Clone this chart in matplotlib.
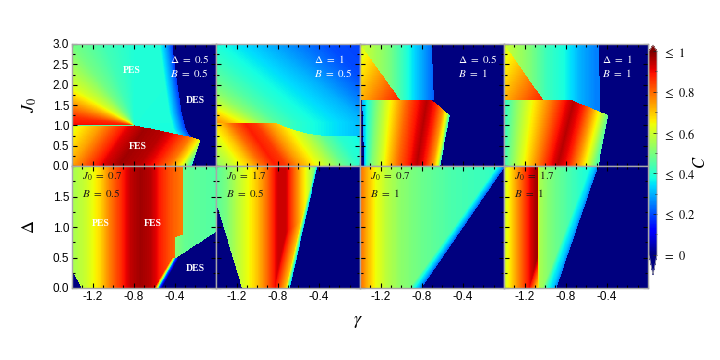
import numpy as np
import matplotlib
matplotlib.use("Agg")
import matplotlib.pyplot as plt
from matplotlib.path import Path
from matplotlib.ticker import MultipleLocator, FixedLocator, FormatStrFormatter

plt.rcParams["mathtext.fontset"] = "stix"
plt.rcParams["font.family"] = ["Liberation Sans", "DejaVu Sans"]

GAMMA_LIM = [-1.4, 0.0]
J0_LIM = [0.0, 3.0]
DELTA_LIM = [0.0, 2.0]

TOP_PARAMS = [("0.5", "0.5"), ("1", "0.5"), ("0.5", "1"), ("1", "1")]
BOT_PARAMS = [("0.7", "0.5"), ("1.7", "0.5"), ("0.7", "1"), ("1.7", "1")]
X_TICKS = [-1.2, -0.8, -0.4]
CBAR_TICKS = [0.0, 0.2, 0.4, 0.6, 0.8, 1.0]
CBAR_LABELS = [r"$=\ 0$", r"$\leq\ 0.2$", r"$\leq\ 0.4$", r"$\leq\ 0.6$", r"$\leq\ 0.8$", r"$\leq\ 1$"]

# ---------------- panel 1 (Delta=0.5, B=0.5) ----------------
P1_PES_G = [-1.4, -0.80, -0.25, -0.30, -0.34, -0.38, -0.43, -1.4]
P1_PES_Y = [1.0, 1.0, 0.71, 0.9, 1.3, 2.0, 3.0, 3.0]
P1_PES_CENTER = [-0.80, 1.0]
P1_PES_ANG = [-30, 90, 110, 127, 147, 162, 172, 180]
P1_PES_C = [0.38, 0.39, 0.43, 0.49, 0.61, 0.76, 0.86, 0.9]
P1_DES_BG = [-0.25, -0.30, -0.34, -0.38, -0.43]
P1_DES_BY = [0.71, 0.9, 1.3, 2.0, 3.0]
P1_FRINGE_D = [0.0, 0.05, 0.12, 0.3]
P1_FRINGE_C = [0.18, 0.27, 0.38, 1.0]
P1_FES_G = [-1.4, -1.4, -0.80, -0.25, -0.16, -0.24]
P1_FES_Y = [0.0, 1.0, 1.0, 0.71, 0.64, 0.0]
P1_FES_V = [0.6, 0.74, 0.8, 0.92, 0.97, 0.95, 0.88, 0.78, 0.65, 0.48, 0.38]
P1_FES_K0 = [-1.7, -1.4, -1.3, -1.1, -0.95, -0.75, -0.6, -0.45, -0.35, -0.28, -0.24]
P1_FES_K1 = [-1.43, -1.13, -1.03, -0.83, -0.68, -0.48, -0.33, -0.18, -0.08, -0.01, 0.03]
P1_LINE_G = [-1.4, -0.80, -0.80, -1.4]
P1_LINE_Y = [0.985, 0.985, 1.015, 1.015]
P1_LINE_C = 0.45

# ---------------- panel 2 (Delta=1, B=0.5) ----------------
P2_PES_G = [-1.4, -0.827, -0.664, -0.503, -0.34, 0.0, 0.0, -1.4]
P2_PES_Y = [1.065, 1.065, 0.90, 0.79, 0.74, 0.74, 3.0, 3.0]
P2_PES_V = [0.78, 0.72, 0.62, 0.52, 0.45, 0.4, 0.3, 0.2, 0.18]
P2_PES_K0 = [-1.45, -1.3, -1.1, -0.95, -0.8, -0.6, 0.07, 0.43, 1.0]
P2_PES_K1 = [-3.0, -2.73, -2.61, -2.13, -1.74, -1.49, -0.9, -0.3, 0.3]
P2_FES_G = [-1.4, -1.4, -0.827, -0.664, -0.503, -0.34, 0.0, 0.0]
P2_FES_Y = [0.0, 1.065, 1.065, 0.90, 0.79, 0.74, 0.74, 0.0]
P2_FES_V = [0.52, 0.6, 0.7, 0.8, 0.88, 0.85, 0.75, 0.66, 0.57, 0.47, 0.4, 0.35]
P2_FES_K0 = [-1.4, -1.23, -1.07, -0.95, -0.82, -0.72, -0.59, -0.45, -0.3, -0.15, 0.0, 0.3]
P2_FES_K1 = [-1.7, -1.53, -1.37, -1.25, -1.12, -1.02, -0.89, -0.75, -0.6, -0.45, -0.3, 0.0]

# ---------------- panel 3 (Delta=0.5, B=1) ----------------
P3_TRI_G = [-1.4, -1.01, -1.4]
P3_TRI_Y = [3.0, 1.62, 1.62]
P3_TRI_V = [0.55, 0.72, 0.88]
P3_TRI_K0 = [-1.815, -1.4, -1.01]
P3_TRI_K1 = [-1.522, -1.107, -0.717]
P3_UP_G = [-1.4, -0.70, -0.69, -0.68, -1.01]
P3_UP_Y = [3.0, 3.0, 2.3, 1.62, 1.62]
P3_UP_V = [0.6, 0.55, 0.5, 0.42, 0.33, 0.25, 0.22]
P3_UP_K = [-1.4, -1.25, -1.12, -0.99, -0.86, -0.73, -0.68]
P3_LOW_G = [-1.36, -1.38, -0.70, -0.525, -0.62]
P3_LOW_Y = [0.0, 1.62, 1.62, 1.25, 0.0]
P3_LOW_V = [0.3, 0.4, 0.5, 0.6, 0.7, 0.8, 0.88, 0.95, 0.88, 0.75, 0.6, 0.4]
P3_LOW_K0 = [-1.36, -1.34, -1.29, -1.2, -1.12, -1.03, -0.93, -0.85, -0.77, -0.69, -0.64, -0.62]
P3_LOW_K1 = [-1.38, -1.32, -1.24, -1.15, -1.05, -0.95, -0.85, -0.75, -0.66, -0.58, -0.53, -0.5]

# ---------------- panel 4 (Delta=1, B=1) ----------------
P4_TRI_G = [-1.4, -1.018, -1.4]
P4_TRI_Y = [3.0, 1.62, 1.62]
P4_TRI_V = [0.55, 0.72, 0.88]
P4_TRI_K0 = [-1.815, -1.4, -1.01]
P4_TRI_K1 = [-1.522, -1.107, -0.717]
P4_UP_G = [-1.018, -1.4, -0.48, -0.465, -0.742]
P4_UP_Y = [1.62, 3.0, 3.0, 1.33, 1.62]
P4_UP_V = [0.6, 0.55, 0.5, 0.42, 0.38, 0.3, 0.25]
P4_UP_K = [-1.4, -1.27, -1.14, -0.98, -0.82, -0.66, -0.5]
P4_LOW_G = [-1.4, -1.4, -0.742, -0.386, -0.48]
P4_LOW_Y = [0.0, 1.62, 1.62, 1.25, 0.0]
P4_LOW_V = [0.4, 0.5, 0.6, 0.7, 0.8, 0.88, 0.95, 0.88, 0.75, 0.6, 0.45]
P4_LOW_K0 = [-1.42, -1.34, -1.25, -1.15, -1.05, -0.97, -0.88, -0.78, -0.68, -0.58, -0.5]
P4_LOW_K1 = [-1.4, -1.3, -1.18, -1.05, -0.92, -0.82, -0.72, -0.62, -0.52, -0.42, -0.34]

# ---------------- panel 5 (J0=0.7, B=0.5) ----------------
P5_ALL_G = [-1.4, 0.0, 0.0, -1.4]
P5_ALL_Y = [0.0, 0.0, 2.0, 2.0]
P5_ALL_V = [0.55, 0.6, 0.68, 0.78, 0.86, 0.94, 0.97, 0.95, 0.88, 0.82, 0.78]
P5_ALL_K = [-1.4, -1.26, -1.13, -1.03, -0.93, -0.84, -0.74, -0.64, -0.55, -0.45, -0.34]
P5_PES_G = [-0.33, 0.0, 0.0, -0.40, -0.40, -0.40, -0.33]
P5_PES_Y = [2.0, 2.0, 0.92, 0.47, 0.5, 0.82, 0.87]
P5_PES_V = [0.52, 0.47, 0.45]
P5_PES_K = [-0.42, -0.3, 0.0]
P5_DES_G = [-0.56, -0.40, 0.0, 0.0]
P5_DES_Y = [0.0, 0.48, 0.92, 0.0]
P5_EDGE_G = [-0.60, -0.53, -0.37, -0.44]
P5_EDGE_Y = [0.0, 0.0, 0.48, 0.48]
P5_EDGE_BG = [-0.56, -0.40]
P5_EDGE_BY = [0.0, 0.48]
P5_EDGE_D = [-0.03, 0.0, 0.012, 0.03, 0.045]
P5_EDGE_C = [0.0, 0.25, 0.5, 0.75, 0.9]
P5_CORNER_G = [-1.4, -1.4, -1.31]
P5_CORNER_Y = [0.0, 0.28, 0.0]

# ---------------- panel 6 (J0=1.7, B=0.5) ----------------
P6_G = [-1.4, -0.41, -0.68, -1.15, -1.4]
P6_Y = [2.0, 2.0, 0.0, 0.0, 1.39]
P6_V = [0.45, 0.5, 0.57, 0.63, 0.7, 0.8, 0.93, 0.93, 0.82, 0.7, 0.6, 0.48, 0.4]
P6_K = [-1.41, -1.3, -1.2, -1.1, -1.0, -0.9, -0.8, -0.72, -0.65, -0.57, -0.5, -0.43, -0.38]
P6_BG = [-0.68, -0.41]
P6_BY = [0.0, 2.0]
P6_FRINGE_D = [0.0, 0.015, 0.04, 0.2]
P6_FRINGE_C = [0.3, 0.45, 0.7, 1.0]

# ---------------- panel 7 (J0=0.7, B=1) ----------------
P7_G = [-1.4, -1.4, 0.0, 0.0, -0.80]
P7_Y = [0.0, 2.0, 2.0, 1.95, 0.0]
P7_V = [0.8, 0.72, 0.64, 0.58, 0.52, 0.48, 0.44, 0.42, 0.4]
P7_K = [-1.4, -1.33, -1.25, -1.15, -1.0, -0.8, -0.5, -0.2, 0.0]
P7_BG = [-0.80, 0.0]
P7_BY = [0.0, 1.95]
P7_FRINGE_D = [0.0, 0.03, 0.08, 0.3]
P7_FRINGE_C = [0.22, 0.3, 0.4, 1.0]

# ---------------- panel 8 (J0=1.7, B=1) ----------------
P8_G = [-1.4, -1.4, -0.48, -0.89]
P8_Y = [0.0, 2.0, 2.0, 0.0]
P8_V = [0.6, 0.68, 0.78, 0.88, 0.96, 0.97, 0.56, 0.5, 0.45, 0.4, 0.36]
P8_K = [-1.4, -1.33, -1.25, -1.17, -1.1, -1.075, -1.065, -0.95, -0.8, -0.65, -0.5]
P8_BG = [-0.89, -0.48]
P8_BY = [0.0, 2.0]
P8_FRINGE_D = [0.0, 0.03, 0.08, 0.3]
P8_FRINGE_C = [0.25, 0.32, 0.38, 1.0]

# ---------------- layout (pixels of a 720x360 canvas) ----------------
FIG_W, FIG_H = 720, 360
PANEL_LEFTS = [72, 216, 360, 504]
PANEL_W = 144
ROW_TOPS = [44, 166]
ROW_H = 122
SX = PANEL_W / (GAMMA_LIM[1] - GAMMA_LIM[0])


def region(kind, pg, py, *args):
    return (kind, pg, py, args)


PANELS = [
    dict(ylim=J0_LIM, regions=[
        region("fan", P1_PES_G, P1_PES_Y, P1_PES_CENTER, P1_PES_ANG, P1_PES_C),
        region("cap", P1_PES_G, P1_PES_Y, P1_DES_BG, P1_DES_BY, P1_FRINGE_D, P1_FRINGE_C),
        region("stripe", P1_FES_G, P1_FES_Y, 0.0, 1.0, P1_FES_K0, P1_FES_K1, P1_FES_V),
        region("const", P1_LINE_G, P1_LINE_Y, P1_LINE_C)]),
    dict(ylim=J0_LIM, regions=[
        region("stripe", P2_PES_G, P2_PES_Y, 1.065, 3.0, P2_PES_K0, P2_PES_K1, P2_PES_V),
        region("stripe", P2_FES_G, P2_FES_Y, 0.0, 1.065, P2_FES_K0, P2_FES_K1, P2_FES_V)]),
    dict(ylim=J0_LIM, regions=[
        region("stripe", P3_UP_G, P3_UP_Y, 1.62, 3.0, P3_UP_K, P3_UP_K, P3_UP_V),
        region("stripe", P3_TRI_G, P3_TRI_Y, 1.62, 3.0, P3_TRI_K0, P3_TRI_K1, P3_TRI_V),
        region("stripe", P3_LOW_G, P3_LOW_Y, 0.0, 1.62, P3_LOW_K0, P3_LOW_K1, P3_LOW_V)]),
    dict(ylim=J0_LIM, regions=[
        region("stripe", P4_UP_G, P4_UP_Y, 1.62, 3.0, P4_UP_K, P4_UP_K, P4_UP_V),
        region("stripe", P4_TRI_G, P4_TRI_Y, 1.62, 3.0, P4_TRI_K0, P4_TRI_K1, P4_TRI_V),
        region("stripe", P4_LOW_G, P4_LOW_Y, 0.0, 1.62, P4_LOW_K0, P4_LOW_K1, P4_LOW_V)]),
    dict(ylim=DELTA_LIM, regions=[
        region("stripe", P5_ALL_G, P5_ALL_Y, 0.0, 2.0, P5_ALL_K, P5_ALL_K, P5_ALL_V),
        region("stripe", P5_PES_G, P5_PES_Y, 0.0, 2.0, P5_PES_K, P5_PES_K, P5_PES_V),
        region("const", P5_DES_G, P5_DES_Y, 0.0),
        region("edge", P5_EDGE_G, P5_EDGE_Y, P5_EDGE_BG, P5_EDGE_BY, P5_EDGE_D, P5_EDGE_C),
        region("const", P5_CORNER_G, P5_CORNER_Y, 0.0)]),
    dict(ylim=DELTA_LIM, regions=[
        region("stripe", P6_G, P6_Y, 0.0, 2.0, P6_K, P6_K, P6_V),
        region("cap", P6_G, P6_Y, P6_BG, P6_BY, P6_FRINGE_D, P6_FRINGE_C)]),
    dict(ylim=DELTA_LIM, regions=[
        region("stripe", P7_G, P7_Y, 0.0, 2.0, P7_K, P7_K, P7_V),
        region("cap", P7_G, P7_Y, P7_BG, P7_BY, P7_FRINGE_D, P7_FRINGE_C)]),
    dict(ylim=DELTA_LIM, regions=[
        region("stripe", P8_G, P8_Y, 0.0, 2.0, P8_K, P8_K, P8_V),
        region("cap", P8_G, P8_Y, P8_BG, P8_BY, P8_FRINGE_D, P8_FRINGE_C)]),
]


def stripe_field(G, Y, y0, y1, k0, k1, v):
    k0 = np.asarray(k0, float)
    k1 = np.asarray(k1, float)
    v = np.asarray(v, float)
    out = np.empty_like(G)
    for i in range(G.shape[0]):
        t = np.clip((Y[i, 0] - y0) / (y1 - y0), 0.0, 1.0)
        out[i] = np.interp(G[i], k0 + t * (k1 - k0), v)
    return out


def fan_field(G, Y, center, ang, v, sy):
    a = np.degrees(np.arctan2((Y - center[1]) * sy, (G - center[0]) * SX))
    a = np.where(a < -90, a + 360, a)
    return np.interp(a, ang, v)


def dist_field(G, Y, bg, by, dk, dv):
    d = np.interp(Y, by, bg) - G
    return np.interp(d, dk, dv)


def build(panel, ng=300, ny=260):
    ylim = panel["ylim"]
    sy = ROW_H / (ylim[1] - ylim[0])
    g = np.linspace(GAMMA_LIM[0], GAMMA_LIM[1], ng)
    y = np.linspace(ylim[0], ylim[1], ny)
    G, Y = np.meshgrid(g, y)
    C = np.zeros_like(G)
    pts = np.column_stack([G.ravel(), Y.ravel()])
    for kind, pg, py, args in panel["regions"]:
        path = Path(np.column_stack([pg, py]))
        mask = path.contains_points(pts, radius=1e-9).reshape(G.shape)
        if kind == "const":
            F = np.full_like(G, args[0])
        elif kind == "stripe":
            F = stripe_field(G, Y, *args)
        elif kind == "fan":
            F = fan_field(G, Y, args[0], args[1], args[2], sy)
        else:
            F = dist_field(G, Y, *args)
            if kind == "cap":
                F = np.minimum(C, F)
        C[mask] = F[mask]
    return C


fig = plt.figure(figsize=(FIG_W / 100, FIG_H / 100), dpi=100)
cmap = plt.get_cmap("jet")
SPINE = "#a8a8a8"
im = None
axes = []
for idx, panel in enumerate(PANELS):
    row, col = divmod(idx, 4)
    left = PANEL_LEFTS[col] / FIG_W
    bottom = 1 - (ROW_TOPS[row] + ROW_H) / FIG_H
    ax = fig.add_axes([left, bottom, PANEL_W / FIG_W, ROW_H / FIG_H])
    axes.append(ax)
    C = build(panel)
    ylim = panel["ylim"]
    im = ax.imshow(C, origin="lower", aspect="auto", cmap=cmap, vmin=0, vmax=1,
                   extent=[GAMMA_LIM[0], GAMMA_LIM[1], ylim[0], ylim[1]],
                   interpolation="nearest")
    ax.set_xlim(GAMMA_LIM)
    ax.set_ylim(ylim)
    ax.xaxis.set_major_locator(FixedLocator(X_TICKS))
    ax.xaxis.set_minor_locator(MultipleLocator(0.1))
    ax.xaxis.set_major_formatter(FormatStrFormatter("%.1f"))
    if row == 0:
        ax.yaxis.set_major_locator(MultipleLocator(0.5))
    else:
        ax.yaxis.set_major_locator(FixedLocator([0.0, 0.5, 1.0, 1.5]))
    ax.yaxis.set_minor_locator(MultipleLocator(0.25))
    ax.yaxis.set_major_formatter(FormatStrFormatter("%.1f"))
    ax.tick_params(which="both", direction="in", top=True, right=True,
                   labelsize=8.5, pad=2, color="black", width=0.8)
    ax.tick_params(which="major", length=3.5)
    ax.tick_params(which="minor", length=2)
    ax.tick_params(axis="x", labelbottom=(row == 1))
    ax.tick_params(axis="y", labelleft=(col == 0))
    for s in ax.spines.values():
        s.set_color(SPINE)
        s.set_linewidth(1.0)

    if row == 0:
        d, b = TOP_PARAMS[col]
        ax.text(0.68, 0.875, r"$\Delta\ =\ %s$" % d, transform=ax.transAxes,
                color="white", fontsize=8, va="center", ha="left")
        ax.text(0.68, 0.765, r"$B\ =\ %s$" % b, transform=ax.transAxes,
                color="white", fontsize=8, va="center", ha="left")
    else:
        j, b = BOT_PARAMS[col]
        ax.text(0.067, 0.915, r"$J_0\ =\ %s$" % j, transform=ax.transAxes,
                color="#1a1a1a", fontsize=8, va="center", ha="left")
        ax.text(0.067, 0.78, r"$B\ =\ %s$" % b, transform=ax.transAxes,
                color="#1a1a1a", fontsize=8, va="center", ha="left")

phase_kw = dict(color="white", fontsize=7, fontweight="bold",
                family=["Liberation Serif", "DejaVu Serif"], ha="center", va="center")
axes[0].text(0.417, 0.779, "PES", transform=axes[0].transAxes, **phase_kw)
axes[0].text(0.854, 0.533, "DES", transform=axes[0].transAxes, **phase_kw)
axes[0].text(0.458, 0.156, "FES", transform=axes[0].transAxes, **phase_kw)
axes[4].text(0.20, 0.525, "PES", transform=axes[4].transAxes, **phase_kw)
axes[4].text(0.5625, 0.525, "FES", transform=axes[4].transAxes, **phase_kw)
axes[4].text(0.854, 0.156, "DES", transform=axes[4].transAxes, **phase_kw)

fig.text(30 / FIG_W, 1 - 105 / FIG_H, r"$J_0$", fontsize=13, rotation=90,
         ha="center", va="center")
fig.text(30 / FIG_W, 1 - 227 / FIG_H, r"$\Delta$", fontsize=13, rotation=90,
         ha="center", va="center")
fig.text(358 / FIG_W, 1 - 322 / FIG_H, r"$\gamma$", fontsize=13,
         ha="center", va="center")

cax = fig.add_axes([649 / FIG_W, 1 - 275 / FIG_H, 8 / FIG_W, 230 / FIG_H])
cb = fig.colorbar(im, cax=cax, extend="both", extendfrac=(0.1, 0.03))
cb.set_ticks(CBAR_TICKS)
cb.set_ticklabels(CBAR_LABELS)
cb.ax.yaxis.set_minor_locator(MultipleLocator(0.1))
cb.ax.tick_params(which="both", direction="in", right=True, labelsize=9, pad=4,
                  color="#222222", width=0.6)
cb.ax.tick_params(which="major", length=3)
cb.ax.tick_params(which="minor", length=1.5)
cb.outline.set_edgecolor(SPINE)
cb.outline.set_linewidth(0.6)
fig.text(700 / FIG_W, 1 - 162 / FIG_H, r"$C$", fontsize=12, rotation=90,
         ha="center", va="center")

fig.savefig("out.png", dpi=100)
